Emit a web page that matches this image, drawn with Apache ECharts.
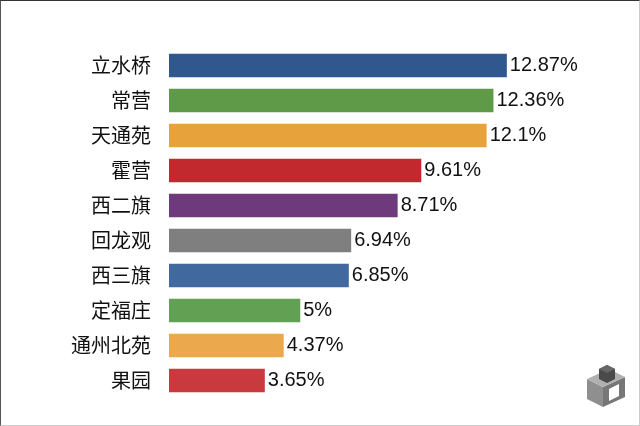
<!DOCTYPE html>
<html><head><meta charset="utf-8">
<script src="https://cdn.jsdelivr.net/npm/echarts@6/dist/echarts.min.js"></script>
<style>
html,body{margin:0;padding:0;background:#fff;}
#c{width:640px;height:426px;box-sizing:border-box;border-top:1px solid #333;border-left:1px solid #555;border-right:1px solid #ccc;border-bottom:1px solid #ccc;}
</style></head>
<body><div id="c"></div>
<script>
const categories = ['立水桥','常营','天通苑','霍营','西二旗','回龙观','西三旗','定福庄','通州北苑','果园'];
const values = [12.87,12.36,12.1,9.61,8.71,6.94,6.85,5,4.37,3.65];
const colors = ['#31578F','#5E9A48','#E8A23C','#C2292F','#6E3A7B','#7F7F7F','#4268A0','#62A153','#EBA84C','#C93A3F'];

const chart = echarts.init(document.getElementById('c'));
chart.setOption({
  animation:false,
  grid:{left:168,top:47,bottom:27,width:420,containLabel:false},
  xAxis:{type:'value',min:0,max:16,show:false},
  yAxis:{type:'category',data:categories,inverse:true,
    axisLine:{show:false},axisTick:{show:false},
    axisLabel:{margin:18,fontSize:20,color:'#111',fontFamily:'"Noto Sans CJK SC",sans-serif'}},
  series:[{type:'bar',barCategoryGap:'33%',
    data:values.map((v,i)=>({value:v,itemStyle:{color:colors[i]}})),
    label:{show:true,position:'right',distance:3,fontSize:20,color:'#111',
      fontFamily:'"Liberation Sans",Arial,sans-serif',formatter:p=>p.value+'%'}}],
  graphic:[
    {type:'group',x:586,y:362,children:[
      {type:'polygon',shape:{points:[[0,16],[16,24],[16,44],[0,36]]},style:{fill:'#8f8f8f'}},
      {type:'polygon',shape:{points:[[16,24],[38,14],[38,34],[16,44]]},style:{fill:'#777'}},
      {type:'polygon',shape:{points:[[0,16],[22,6],[38,14],[16,24]]},style:{fill:'#b0b0b0'}},
      {type:'polygon',shape:{points:[[22,26],[32,21],[32,33],[22,38]]},style:{fill:'#fff'}},
      {type:'polygon',shape:{points:[[12,6],[20,2],[28,6],[28,16],[20,20],[12,16]]},style:{fill:'#4a4a4a'}},
      {type:'polygon',shape:{points:[[12,6],[20,2],[28,6],[20,10]]},style:{fill:'#666'}}
    ]}
  ]
});
</script></body></html>
